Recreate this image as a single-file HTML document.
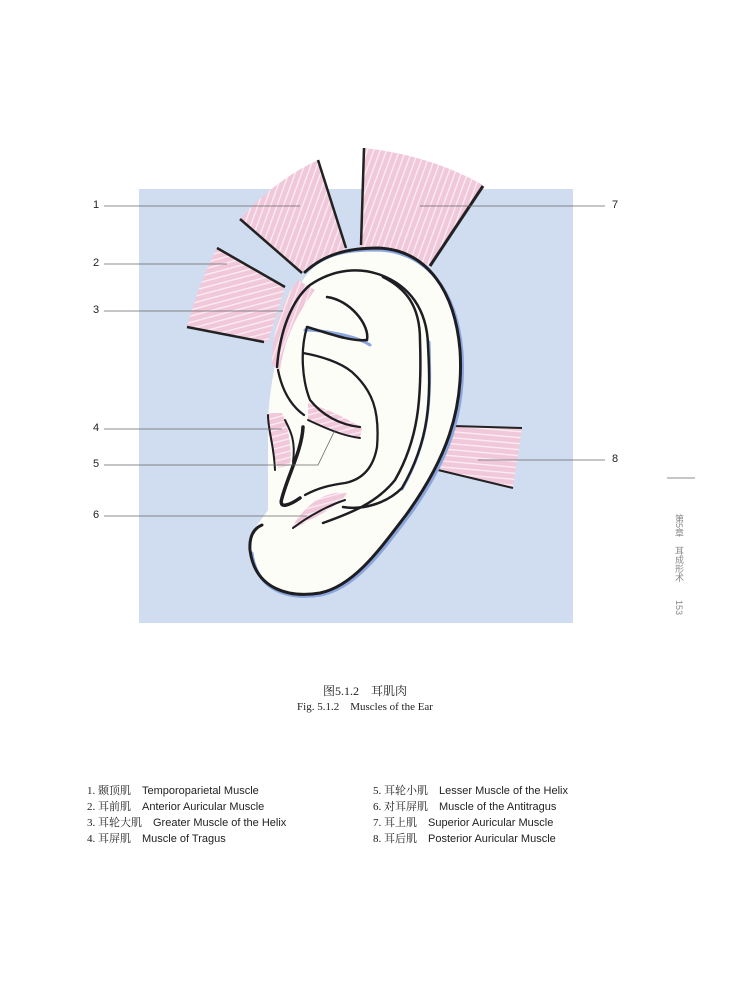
<!DOCTYPE html>
<html><head><meta charset="utf-8"><style>
html,body{margin:0;padding:0;background:#fff;}
body{width:730px;height:991px;position:relative;overflow:hidden;font-family:"Liberation Sans","Noto Sans CJK SC",sans-serif;}
.t{position:absolute;font-size:11px;color:#222;white-space:nowrap;}
.cn{font-family:"Liberation Serif","Noto Serif CJK SC",serif;}
</style></head><body>
<svg width="730" height="991" style="position:absolute;left:0;top:0">
<defs>
<pattern id="st" width="6" height="6" patternUnits="userSpaceOnUse" patternTransform="rotate(20)">
<rect width="6" height="6" fill="#f0c8da"/><rect width="1.3" height="6" fill="#fbeef3"/>
</pattern>
<pattern id="st2" width="6" height="6" patternUnits="userSpaceOnUse" patternTransform="rotate(-15)">
<rect width="6" height="6" fill="#f0c8da"/><rect width="6" height="1.3" fill="#fbeef3"/>
</pattern>
<pattern id="st3" width="6" height="6" patternUnits="userSpaceOnUse" patternTransform="rotate(5)">
<rect width="6" height="6" fill="#f0c8da"/><rect width="6" height="1.3" fill="#fbeef3"/>
</pattern>
</defs>
<rect x="139" y="189" width="434" height="434" fill="#d0dcf0"/>
<!-- muscle 1 -->
<path d="M240,219 Q275,180 318,160 L346,250 Q320,258 302,273 Z" fill="url(#st)"/>
<path d="M240,219 L302,273" stroke="#222" stroke-width="2.5"/>
<path d="M318,160 L346,248" stroke="#222" stroke-width="2.5"/>
<!-- muscle 7 -->
<path d="M364,148 Q430,155 483,185 L429,266 Q395,248 360,247 Z" fill="url(#st)"/>
<path d="M364,148 L361,245" stroke="#222" stroke-width="2.5"/>
<path d="M483,186 L430,266" stroke="#222" stroke-width="3"/>
<!-- muscle 2 -->
<path d="M217,248 L285,287 L268,342 L187,327 Q198,285 217,248 Z" fill="url(#st2)"/>
<path d="M217,248 L285,287" stroke="#222" stroke-width="2.5"/>
<path d="M187,327 L264,342" stroke="#222" stroke-width="2.5"/>
<!-- muscle 8 -->
<path d="M453,426 L522,428 L513,488 L438,470 Z" fill="url(#st3)"/>
<path d="M453,426 L522,428" stroke="#222" stroke-width="2"/>
<path d="M438,470 L513,488" stroke="#222" stroke-width="2"/>
<!-- ear fill -->
<path d="M300,285 C315,258 340,250 375,248 C425,248 455,290 460,350 C465,410 445,460 405,515 C380,548 355,585 320,592 C290,597 255,590 250,550 C249,530 262,520 268,510 L268,420 C270,380 280,330 300,285 Z" fill="#fdfdf8"/>
<!-- muscle 3 on helix -->
<path d="M298,280 L315,290 C300,310 285,335 280,370 L272,365 C272,330 282,300 298,280 Z" fill="url(#st)"/>
<!-- muscle 4 tragus -->
<path d="M267,413 L282,413 C290,430 292,455 290,465 L278,468 C272,450 266,430 267,413 Z" fill="url(#st2)"/>
<!-- muscle 5 -->
<path d="M308,403 C330,410 350,420 362,428 L360,438 C340,433 320,425 308,420 Z" fill="url(#st2)"/>
<!-- muscle 6 -->
<path d="M292,527 C305,505 325,490 347,493 C340,505 320,515 295,528 Z" fill="url(#st2)"/>
<!-- blue shadows -->
<g fill="none" stroke="#8aa6dc" stroke-width="3" stroke-linecap="round">
<path d="M310,268 C330,252 350,250 378,250 C428,252 457,292 462,352 C466,412 448,462 408,517 C382,551 356,588 321,595 C290,600 257,592 252,553"/>
<path d="M429,342 C431,400 430,440 402,489"/>
<path d="M305,330 C320,330 355,335 370,345"/>
</g>
<!-- ear outline -->
<g fill="none" stroke="#1e1e22" stroke-linecap="round">
<path d="M305,272 C325,254 348,248 378,248 C428,250 455,292 460,350 C464,410 446,460 406,515 C380,549 354,586 320,593 C290,598 255,590 250,550 C249,535 255,528 262,525" stroke-width="3"/>
<path d="M277,367 C280,330 292,300 310,285 C335,268 360,268 378,274 C410,285 427,310 428,345 C431,400 430,440 402,488 C385,505 360,510 343,507" stroke-width="2.5"/>
<path d="M383,277 C405,288 420,305 420,340 C422,400 418,440 395,480 C375,505 345,515 323,523" stroke-width="2.5"/>
<path d="M307,327 C300,350 302,380 310,400 C322,415 340,425 360,427" stroke-width="2.3"/>
<path d="M303,353 C320,356 340,362 352,372 C372,390 380,410 377,447 C373,470 360,480 345,483 C330,485 318,488 305,495" stroke-width="2.3"/>
<path d="M307,327 C325,332 350,342 367,340 C370,325 350,300 327,297" stroke-width="2.5"/>
<path d="M303,427 C302,450 288,475 282,498 C278,510 290,505 300,498" stroke-width="3.5"/>
<path d="M278,370 C282,390 290,405 304,415" stroke-width="2.3"/>
<path d="M285,420 C290,430 296,440 293,462" stroke-width="2"/>
<path d="M268,415 C268,430 274,445 275,470" stroke-width="2"/>
<path d="M293,528 C310,515 330,505 345,500" stroke-width="2"/>
<path d="M308,420 C325,428 343,436 360,438" stroke-width="2"/>
</g>
<!-- leader lines -->
<g stroke="#666" stroke-width="0.8" fill="none">
<line x1="104" y1="206" x2="300" y2="206"/>
<line x1="104" y1="264" x2="227" y2="264"/>
<line x1="104" y1="311" x2="283" y2="311"/>
<line x1="104" y1="429" x2="282" y2="429"/>
<polyline points="104,465 318,465 335,430"/>
<line x1="104" y1="516" x2="307" y2="516"/>
<line x1="420" y1="206" x2="605" y2="206"/>
<line x1="478" y1="460" x2="605" y2="460"/>
<line x1="667" y1="478" x2="695" y2="478"/>
</g>
</svg>
<div class="t" style="left:93px;top:199px">1</div>
<div class="t" style="left:93px;top:257px">2</div>
<div class="t" style="left:93px;top:304px">3</div>
<div class="t" style="left:93px;top:422px">4</div>
<div class="t" style="left:93px;top:458px">5</div>
<div class="t" style="left:93px;top:509px">6</div>
<div class="t" style="left:612px;top:199px">7</div>
<div class="t" style="left:612px;top:453px">8</div>
<div class="t cn" style="left:0;width:730px;text-align:center;top:682px;font-size:12px;">图5.1.2　耳肌肉</div>
<div class="t cn" style="left:0;width:730px;text-align:center;top:698px;font-size:11px;">Fig. 5.1.2　Muscles of the Ear</div>
<div class="t" style="left:87px;top:782px"><span class="cn">1. 颞顶肌</span>　Temporoparietal Muscle</div>
<div class="t" style="left:87px;top:798px"><span class="cn">2. 耳前肌</span>　Anterior Auricular Muscle</div>
<div class="t" style="left:87px;top:814px"><span class="cn">3. 耳轮大肌</span>　Greater Muscle of the Helix</div>
<div class="t" style="left:87px;top:830px"><span class="cn">4. 耳屏肌</span>　Muscle of Tragus</div>
<div class="t" style="left:373px;top:782px"><span class="cn">5. 耳轮小肌</span>　Lesser Muscle of the Helix</div>
<div class="t" style="left:373px;top:798px"><span class="cn">6. 对耳屏肌</span>　Muscle of the Antitragus</div>
<div class="t" style="left:373px;top:814px"><span class="cn">7. 耳上肌</span>　Superior Auricular Muscle</div>
<div class="t" style="left:373px;top:830px"><span class="cn">8. 耳后肌</span>　Posterior Auricular Muscle</div>
<div class="t" style="left:673px;top:514px;writing-mode:vertical-rl;font-size:9px;color:#888;">第5章　耳成形术　　153</div>
</body></html>
